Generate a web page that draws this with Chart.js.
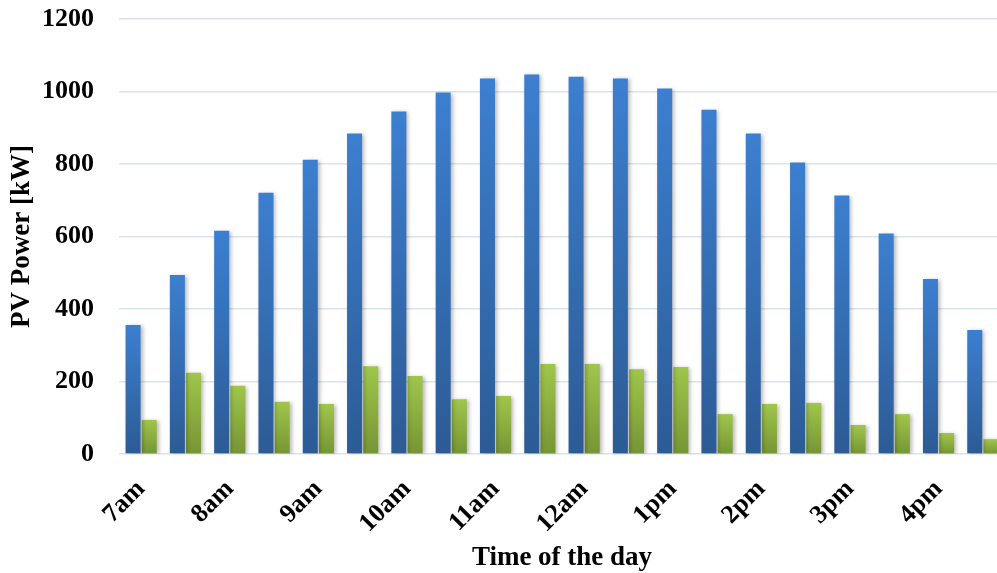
<!DOCTYPE html>
<html>
<head>
<meta charset="utf-8">
<script src="https://cdn.jsdelivr.net/npm/chart.js@4/dist/chart.umd.min.js"></script>
<style>
  html, body { margin: 0; padding: 0; background: #ffffff; overflow: hidden; }
  #wrap { width: 1005px; height: 573px; }
</style>
</head>
<body>
<div id="wrap"><canvas id="pv" width="1005" height="573"></canvas></div>
<script>
// Hourly tick labels (one per two half-hour slots)
const hourLabels = ['7am', '8am', '9am', '10am', '11am', '12am', '1pm', '2pm', '3pm', '4pm'];
// Half-hour slots from 7:00 to 16:30
const slots = ['7:00', '7:30', '8:00', '8:30', '9:00', '9:30', '10:00', '10:30', '11:00', '11:30',
               '12:00', '12:30', '13:00', '13:30', '14:00', '14:30', '15:00', '15:30', '16:00', '16:30'];
// PV power [kW]
const clearSky = [356, 494, 616, 721, 812, 884, 945, 997, 1036, 1047,
                  1041, 1036, 1008, 950, 884, 804, 713, 608, 483, 342];
const cloudy   = [94, 224, 188, 144, 138, 242, 215, 151, 160, 248,
                  248, 234, 240, 110, 138, 141, 80, 110, 58, 41];
const yTicks = [0, 200, 400, 600, 800, 1000, 1200];

const serif = 'Liberation Serif, Times New Roman, serif';

function barFill(topColor, bottomColor) {
  return (c) => {
    const chart = c.chart;
    if (!chart.chartArea || c.raw == null) return bottomColor;
    const ys = chart.scales.y;
    const g = chart.ctx.createLinearGradient(0, ys.getPixelForValue(c.raw), 0, ys.getPixelForValue(0));
    g.addColorStop(0, topColor);
    g.addColorStop(1, bottomColor);
    return g;
  };
}

// soft drop shadow under the bars
const barShadow = {
  id: 'barShadow',
  beforeDatasetsDraw(chart) {
    const ctx = chart.ctx;
    ctx.save();
    ctx.shadowColor = 'rgba(0,0,0,0.28)';
    ctx.shadowBlur = 4;
    ctx.shadowOffsetX = 2;
    ctx.shadowOffsetY = 1;
  },
  afterDatasetsDraw(chart) {
    chart.ctx.restore();
  }
};

new Chart(document.getElementById('pv'), {
  type: 'bar',
  data: {
    labels: slots,
    datasets: [
      {
        label: 'Clear sky',
        data: clearSky,
        backgroundColor: barFill('#3c7fd0', '#2c5b95'),
        borderWidth: 0,
        barPercentage: 0.93,
        categoryPercentage: 0.73
      },
      {
        label: 'Cloudy',
        data: cloudy,
        backgroundColor: barFill('#a0c64b', '#769535'),
        borderWidth: 0,
        barPercentage: 0.93,
        categoryPercentage: 0.73
      }
    ]
  },
  options: {
    responsive: false,
    animation: false,
    devicePixelRatio: 1,
    layout: { padding: { top: 19, right: 0, bottom: 0, left: 0 } },
    plugins: {
      legend: { display: false },
      tooltip: { enabled: false }
    },
    scales: {
      x: {
        grid: { display: false },
        border: { display: false },
        ticks: {
          autoSkip: false,
          minRotation: 45,
          maxRotation: 45,
          padding: 12,
          color: '#000',
          font: { family: serif, size: 26, weight: 'bold' },
          callback: (v, i) => (i % 2 === 0 ? hourLabels[i / 2] : '')
        },
        title: {
          display: true,
          text: 'Time of the day',
          color: '#000',
          font: { family: serif, size: 27, weight: 'bold' },
          padding: { top: 0, bottom: -1 }
        },
        afterFit: (s) => { s.height = 119; s.paddingRight = 0; s.paddingLeft = 0; }
      },
      y: {
        min: 0,
        max: 1200,
        afterBuildTicks: (s) => { s.ticks = yTicks.map(v => ({ value: v })); },
        grid: { color: '#d9e2f0', lineWidth: 1.5, drawTicks: false },
        border: { display: false },
        ticks: {
          padding: 25,
          color: '#000',
          font: { family: serif, size: 26, weight: 'bold' },
          callback: (v) => String(v)
        },
        title: {
          display: true,
          text: 'PV Power [kW]',
          color: '#000',
          font: { family: serif, size: 27, weight: 'bold' },
          padding: { top: 6, bottom: 0 }
        },
        afterFit: (s) => { s.width = 119; s.paddingTop = 0; s.paddingBottom = 0; }
      }
    }
  },
  plugins: [barShadow]
});
</script>
</body>
</html>
